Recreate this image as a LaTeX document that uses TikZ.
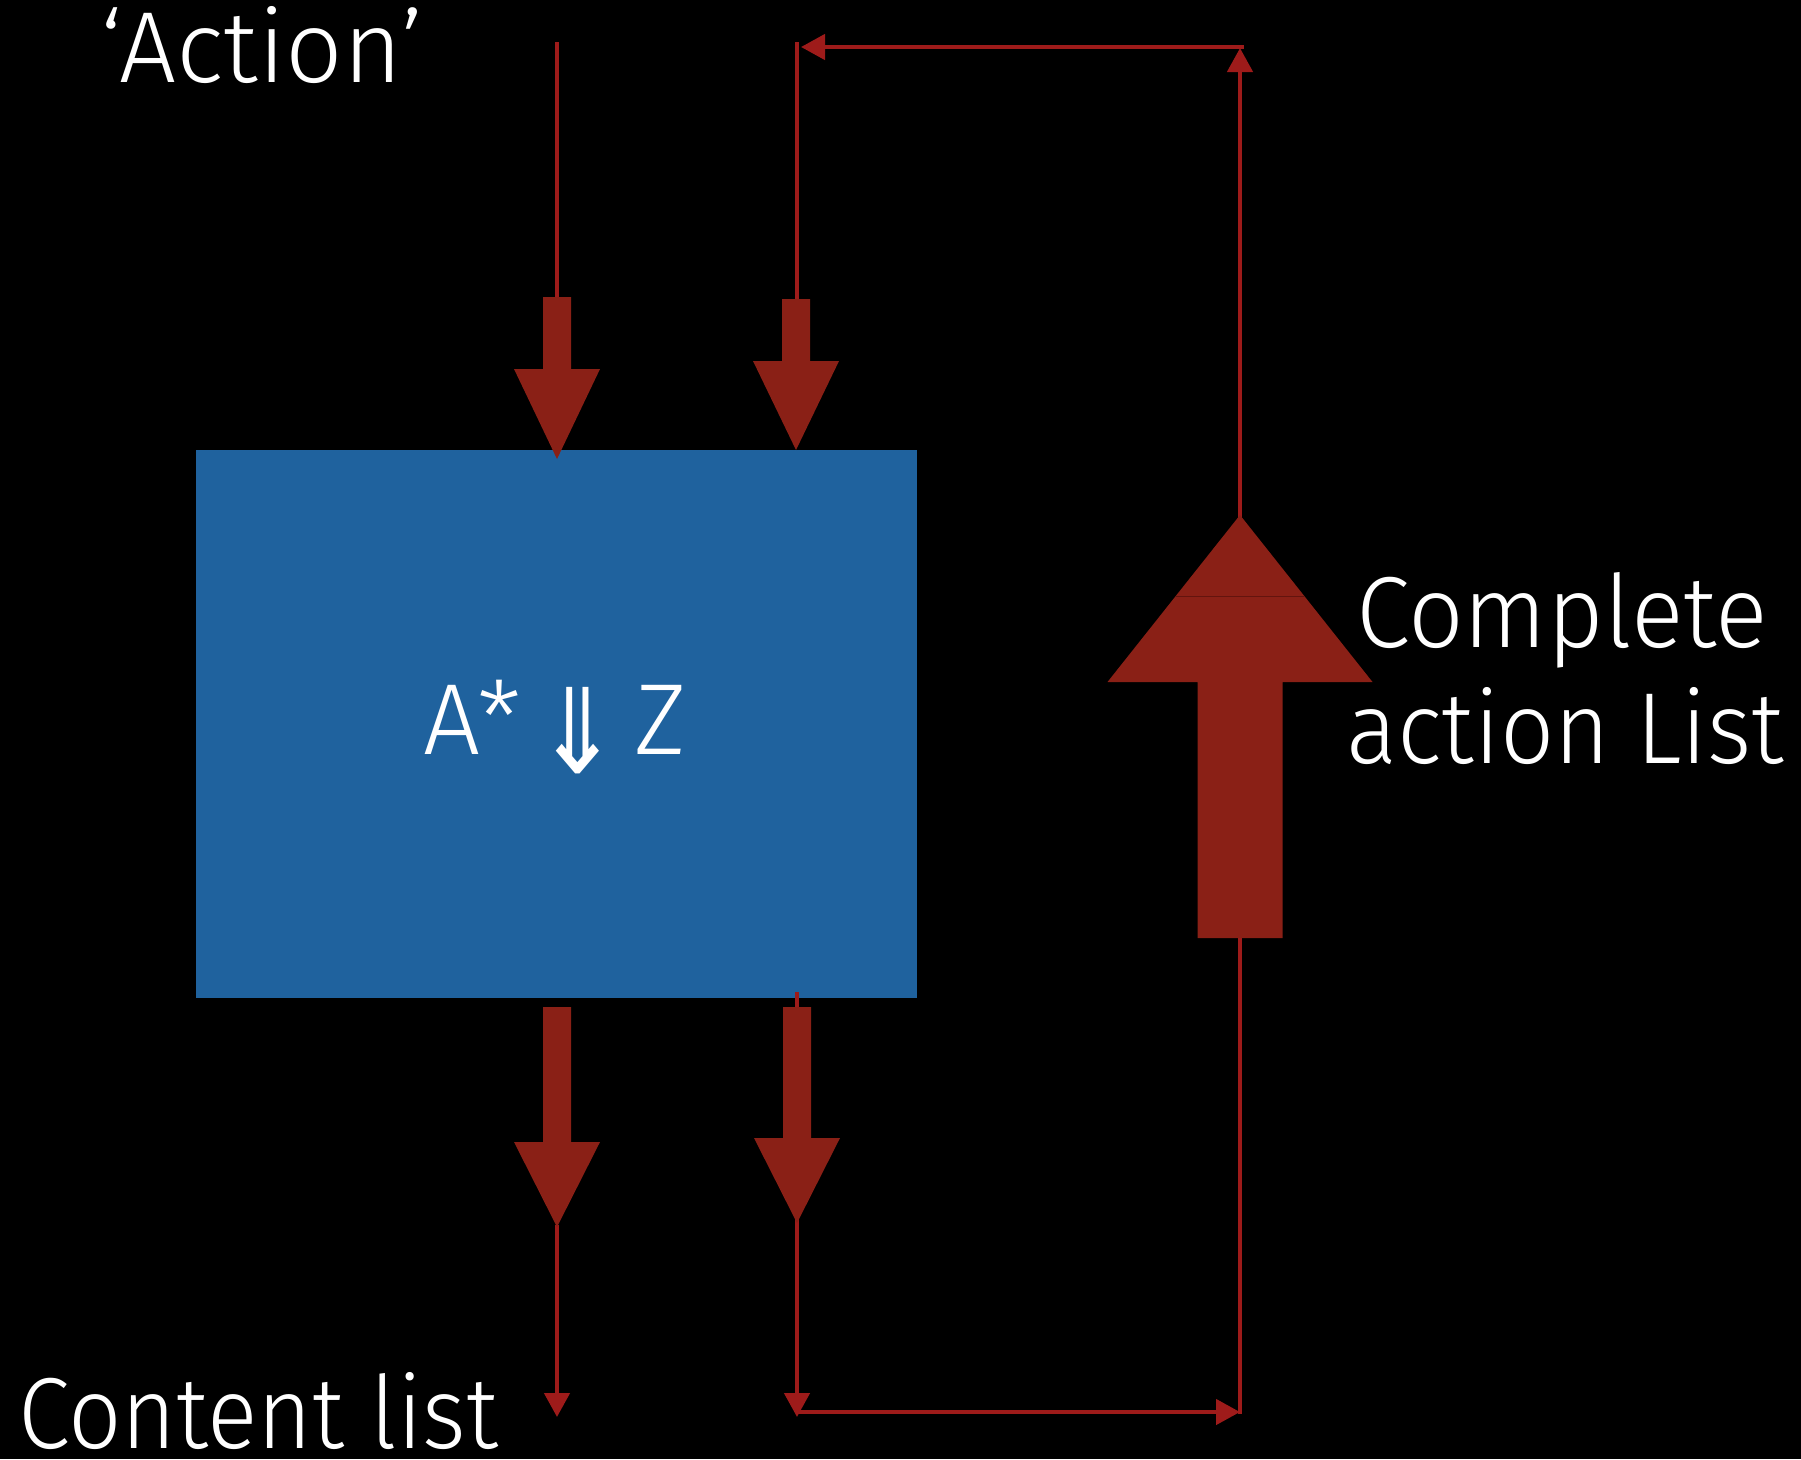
\documentclass[tikz,border=0pt]{standalone}
\usepackage{fontspec}
\usepackage{graphicx}
\setmainfont{Fira Sans Light}
\newfontfamily\arrowfont{DejaVu Sans}
\usetikzlibrary{arrows.meta}

\definecolor{boxblue}{RGB}{31,98,158}
\definecolor{fatred}{RGB}{138,32,22}
\definecolor{wirered}{RGB}{158,27,26}
\definecolor{seamred}{RGB}{100,20,14}

\tikzset{
  wire/.style={draw=wirered, line width=4.5pt},
  tipped/.style={wire, -{Triangle[length=24pt,width=25pt]}},
  fatfill/.style={fill=fatred},
  whitelabel/.style={text=white, font=\fontsize{101}{116}\selectfont, inner sep=0pt},
}

% block arrow: x, shaft end, head base, tip, shaft half width, head half width
\newcommand\blockarrow[6]{%
  \fill[fatfill] ({#1-#5},#2) -- ({#1-#5},#3) -- ({#1-#6},#3) -- (#1,#4)
    -- ({#1+#6},#3) -- ({#1+#5},#3) -- ({#1+#5},#2) -- cycle;}
% set a label to a given width, keeping its natural height
\newcommand\fitto[2]{\resizebox{#1}{\height}{#2}}

\begin{document}
\begin{tikzpicture}[x=1pt,y=-1pt]
  \fill[black] (0,0) rectangle (1801,1459);
  \useasboundingbox (0,0) rectangle (1801,1459);

  % the processing block
  \node[fill=boxblue, minimum width=721pt, minimum height=548pt, inner sep=0pt,
        anchor=north west] (box) at (196,450) {};

  % connector end points
  \coordinate (actTop)   at (557,42);
  \coordinate (actIn)    at (557,300);
  \coordinate (fbIn)     at (797,300);
  \coordinate (fbTop)    at (797,42);
  \coordinate (fbCorner) at (1244,47);
  \coordinate (fbLeft)   at (801,47);
  \coordinate (upTop)    at (1240,48);
  \coordinate (upBottom) at (1240,1414);
  \coordinate (outA)     at (557,1225);
  \coordinate (outAEnd)  at (557,1417);
  \coordinate (outB)     at (797,992);
  \coordinate (outBEnd)  at (797,1417);
  \coordinate (runStart) at (797,1412);
  \coordinate (runEnd)   at (1240,1412);

  % thin connectors
  \draw[wire]   (actTop) -- (actIn);
  \draw[wire]   (fbTop) -- (fbIn);
  \draw[tipped] (fbCorner) -- (fbLeft);
  \draw[tipped] (upBottom) -- (upTop);
  \draw[tipped] (outA) -- (outAEnd);
  \draw[tipped] (outB) -- (outBEnd);
  \draw[tipped] (runStart) -- (runEnd);

  % block arrows
  \blockarrow{557}{297}{369}{459}{14}{43}
  \blockarrow{796}{299}{361}{450}{14}{43}
  \blockarrow{557}{1007}{1142}{1227}{14}{43}
  \blockarrow{797}{1007}{1138}{1223}{14}{43}
  \blockarrow{1240}{938}{682}{515}{42.5}{132.5}
  \draw[seamred, line width=1pt] (1176,596) -- (1304,596);

  % labels
  \node[whitelabel, anchor=base west] (action) at (100,82) {‘Action’};
  \node[whitelabel, anchor=base] (rule) at (555,754)
    {A*\hspace{14pt}\raisebox{-19pt}{\scalebox{1}[1.17]{\arrowfont ⇓}}\hspace{14pt}Z};
  \node[whitelabel, anchor=base west] (complete) at (1356,647) {\fitto{412pt}{Complete}};
  \node[whitelabel, anchor=base west] (actionlist) at (1346,763) {\fitto{438pt}{action List}};
  \node[whitelabel, anchor=base west] (content) at (18,1448) {\fitto{480pt}{Content list}};
\end{tikzpicture}
\end{document}
